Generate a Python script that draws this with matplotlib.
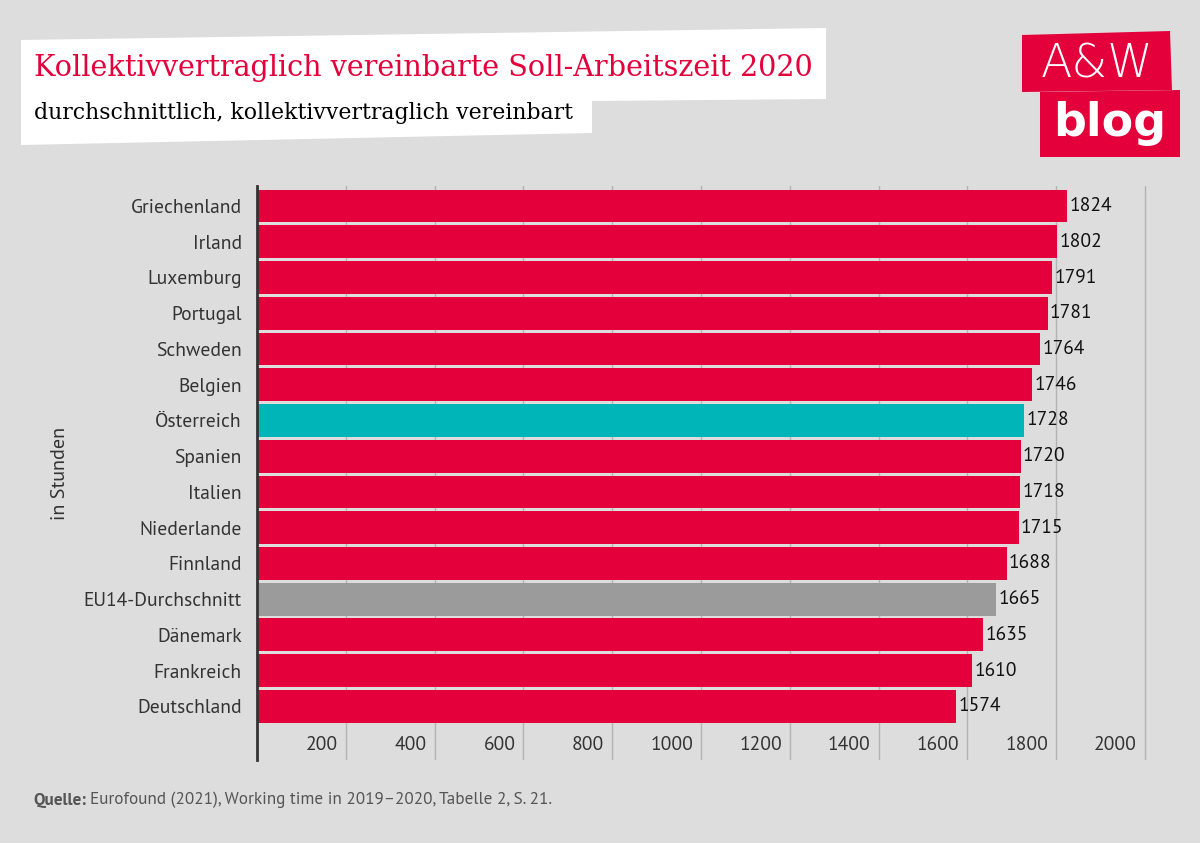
import matplotlib
matplotlib.use("Agg")
from matplotlib import pyplot as plt
from matplotlib.patches import Polygon
from matplotlib import transforms
import numpy as np

# data
laender = ["Griechenland", "Irland", "Luxemburg", "Portugal", "Schweden", "Belgien",
           "Österreich", "Spanien", "Italien", "Niederlande", "Finnland",
           "EU14-Durchschnitt", "Dänemark", "Frankreich", "Deutschland"]
stunden = [1824, 1802, 1791, 1781, 1764, 1746, 1728, 1720, 1718, 1715, 1688,
           1665, 1635, 1610, 1574]
ticks = [200, 400, 600, 800, 1000, 1200, 1400, 1600, 1800, 2000]

titel = "Kollektivvertraglich vereinbarte Soll-Arbeitszeit 2020"
untertitel = "durchschnittlich, kollektivvertraglich vereinbart"
quelle = "Eurofound (2021), Working time in 2019\u20132020, Tabelle 2, S. 21."

ROT = "#e4003b"
TUERKIS = "#00b5b8"
GRAU = "#9b9b9b"
BG = "#dddddd"

def farbe(land):
    if land == "Österreich":
        return TUERKIS
    if land.startswith("EU14"):
        return GRAU
    return ROT

sans = ["PT Sans", "Open Sans", "DejaVu Sans"]

W, H = 1200, 843
fig = plt.figure(figsize=(12, 8.43), dpi=100, facecolor=BG)

def px(x, y):
    return (x / W, 1 - y / H)

# title box
box = Polygon([px(21, 40), px(826, 28), px(826, 99), px(592, 101),
               px(592, 133), px(21, 145)], closed=True,
              transform=fig.transFigure, facecolor="white", edgecolor="none")
fig.patches.append(box)
fig.text(*px(34, 68), titel, color=ROT, fontsize=20.6, family="DejaVu Serif",
         va="center", ha="left")
fig.text(*px(34, 113), untertitel, color="black", fontsize=15.8, family="DejaVu Serif",
         va="center", ha="left")

# logo
logo1 = Polygon([px(1022, 35), px(1170, 31), px(1172, 90), px(1022, 92)], closed=True,
                transform=fig.transFigure, facecolor=ROT, edgecolor="none")
logo2 = Polygon([px(1040, 92), px(1180, 90), px(1180, 157), px(1040, 157)], closed=True,
                transform=fig.transFigure, facecolor=ROT, edgecolor="none")
fig.patches.extend([logo1, logo2])
fig.text(*px(1097, 64), "A&W", color="white", fontsize=33, family="DejaVu Sans",
         weight="light", ha="center", va="center")
fig.text(*px(1110, 124), "blog", color="white", fontsize=33, family="DejaVu Sans",
         weight="bold", ha="center", va="center")

# chart
ax = fig.add_axes([257 / W, 83 / H, (1150 - 257) / W, (760 - 186) / H])
ax.set_facecolor(BG)
y = np.arange(len(laender))
ax.barh(y, stunden, height=0.92, color=[farbe(l) for l in laender], zorder=3)
ax.set_ylim(15.5, -0.56)
ax.set_xlim(0, 2011)

for t in ticks:
    ax.axvline(t, color="#b3b3b3", lw=1, zorder=1)
trans = transforms.blended_transform_factory(ax.transData, ax.transAxes)
for t in ticks:
    ax.text(t - 18, 0.026, str(t), transform=trans, ha="right", va="center",
            fontsize=14, family=sans, color="#333333")

for yi, v in zip(y, stunden):
    ax.text(v + 5, yi, str(v), ha="left", va="center", fontsize=14,
            family=sans, color="#111111", zorder=4)

ax.set_yticks(y)
ax.set_yticklabels(laender, family=sans, fontsize=14, color="#333333")
ax.tick_params(axis="y", length=0, pad=11)
ax.set_xticks([])
for s in ["top", "right", "bottom"]:
    ax.spines[s].set_visible(False)
ax.spines["left"].set_color("#333333")
ax.spines["left"].set_linewidth(2)
ax.spines["left"].set_zorder(5)

fig.text(*px(60, 473), "in Stunden", rotation=90, family=sans, fontsize=14.5,
         color="#333333", ha="center", va="center")

# source
t1 = fig.text(*px(33, 800), "Quelle:", family=sans, fontsize=12.3, weight="bold",
              color="#555555", ha="left", va="center")
fig.canvas.draw()
bb = t1.get_window_extent()
fig.text((bb.x1 + 4) / W, 1 - 800 / H, quelle, family=sans, fontsize=12.3,
         color="#555555", ha="left", va="center")

fig.savefig("out.png", dpi=100, facecolor=BG)
